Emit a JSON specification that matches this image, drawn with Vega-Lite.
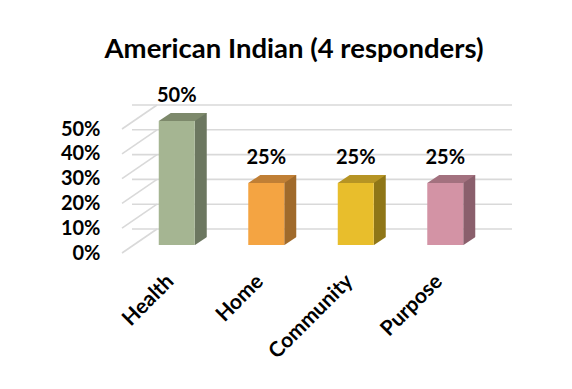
{
  "$schema": "https://vega.github.io/schema/vega-lite/v6.json",
  "width": 358,
  "height": 124,
  "autosize": {"type": "none"},
  "padding": {"left": 132, "top": 121, "right": 82, "bottom": 144},
  "background": "#ffffff",
  "title": {
    "text": "American Indian (4 responders)",
    "frame": "group",
    "anchor": "middle",
    "dx": -17,
    "offset": 23,
    "font": "Lato",
    "fontWeight": "bold",
    "fontSize": 27.5,
    "color": "#000000"
  },
  "config": {
    "view": {"stroke": null},
    "font": "Lato",
    "axisY": {"labelOverlap": false, "labelFont": "Lato", "labelFontWeight": "bold", "labelFontSize": 20, "labelColor": "#000000", "labelPadding": 32, "labelOffset": 8, "labelBaseline": "middle", "grid": false, "ticks": false, "domain": false, "title": null}
  },
  "datasets": {
    "main": [
      {"cat": "Health", "v": 0.5},
      {"cat": "Home", "v": 0.25},
      {"cat": "Community", "v": 0.25},
      {"cat": "Purpose", "v": 0.25}
    ],
    "ticks": [
      {"v": 0}, {"v": 0.1}, {"v": 0.2}, {"v": 0.3}, {"v": 0.4}, {"v": 0.5}
    ]
  },
  "layer": [
    {
      "data": {"name": "ticks"},
      "mark": {"type": "rule", "color": "#d9d9d9", "strokeWidth": 1.6, "yOffset": -16, "xOffset": 22, "x2Offset": 25},
      "encoding": {
        "y": {"field": "v", "type": "quantitative", "scale": {"domain": [0, 0.5], "nice": false, "zero": true},
          "axis": {"format": ".0%", "values": [0, 0.1, 0.2, 0.3, 0.4, 0.5], "labelOverlap": false}}
      }
    },
    {
      "data": {"name": "ticks"},
      "mark": {"type": "rule", "color": "#d9d9d9", "strokeWidth": 1.6, "yOffset": 8, "y2Offset": -16},
      "encoding": {
        "y": {"field": "v", "type": "quantitative", "axis": {"format": ".0%", "values": [0, 0.1, 0.2, 0.3, 0.4, 0.5], "labelOverlap": false}},
        "y2": {"field": "v"},
        "x": {"value": -10},
        "x2": {"value": 25}
      }
    },
    {
      "data": {"name": "main"},
      "mark": {"type": "bar", "width": 12, "xOffset": 24, "yOffset": -8, "y2Offset": 0},
      "encoding": {
        "x": {"field": "cat", "type": "nominal", "sort": null,
          "scale": {"paddingInner": 0.598, "paddingOuter": 0.299},
          "axis": {"title": null, "labelAngle": -45, "labelAlign": "right", "labelBaseline": "middle", "ticks": false, "domain": false, "labelOverlap": false,
            "labelFont": "Lato", "labelFontWeight": "bold", "labelFontSize": 21, "labelColor": "#000000", "labelPadding": 33, "labelOffset": -6}},
        "y": {"field": "v", "type": "quantitative", "axis": {"format": ".0%", "values": [0, 0.1, 0.2, 0.3, 0.4, 0.5], "labelOverlap": false}},
        "y2": {"datum": 0},
        "color": {"field": "cat", "type": "nominal", "legend": null,
          "scale": {"domain": ["Health", "Home", "Community", "Purpose"], "range": ["#6c7760", "#a06a2b", "#8f7617", "#8a5f6c"]}}
      }
    },
    {
      "data": {"name": "main"},
      "mark": {"type": "point", "filled": true, "opacity": 1, "size": 4, "shape": "M17.5,0.6L31,0.6L31,-8.5Z", "fill": "#ffffff", "strokeWidth": 0},
      "encoding": {
        "x": {"field": "cat", "type": "nominal", "sort": null},
        "y": {"datum": 0, "type": "quantitative", "axis": {"format": ".0%", "values": [0, 0.1, 0.2, 0.3, 0.4, 0.5], "labelOverlap": false}}
      }
    },
    {
      "data": {"name": "main"},
      "mark": {"type": "bar", "width": {"band": 1}},
      "encoding": {
        "x": {"field": "cat", "type": "nominal", "sort": null},
        "y": {"field": "v", "type": "quantitative", "axis": {"format": ".0%", "values": [0, 0.1, 0.2, 0.3, 0.4, 0.5], "labelOverlap": false}},
        "color": {"field": "cat", "type": "nominal", "legend": null,
          "scale": {"domain": ["Health", "Home", "Community", "Purpose"], "range": ["#a5b592", "#f4a442", "#e8be2c", "#d393a5"]}}
      }
    },
    {
      "data": {"name": "main"},
      "mark": {"type": "point", "filled": true, "opacity": 1, "size": 4, "shape": "M-18,0L18,0L30,-8L-6,-8Z", "strokeWidth": 0},
      "encoding": {
        "x": {"field": "cat", "type": "nominal", "sort": null},
        "y": {"field": "v", "type": "quantitative", "axis": {"format": ".0%", "values": [0, 0.1, 0.2, 0.3, 0.4, 0.5], "labelOverlap": false}},
        "color": {"field": "cat", "type": "nominal", "legend": null,
          "scale": {"domain": ["Health", "Home", "Community", "Purpose"], "range": ["#7d896b", "#c07f35", "#b69424", "#a3717f"]}}
      }
    },
    {
      "data": {"name": "main"},
      "mark": {"type": "text", "font": "Lato", "fontWeight": "bold", "fontSize": 20, "color": "#000000", "baseline": "alphabetic", "dy": -19},
      "encoding": {
        "x": {"field": "cat", "type": "nominal", "sort": null},
        "y": {"field": "v", "type": "quantitative", "axis": {"format": ".0%", "values": [0, 0.1, 0.2, 0.3, 0.4, 0.5], "labelOverlap": false}},
        "text": {"field": "v", "type": "quantitative", "format": ".0%"}
      }
    }
  ],
  "resolve": {"scale": {"color": "independent"}}
}
